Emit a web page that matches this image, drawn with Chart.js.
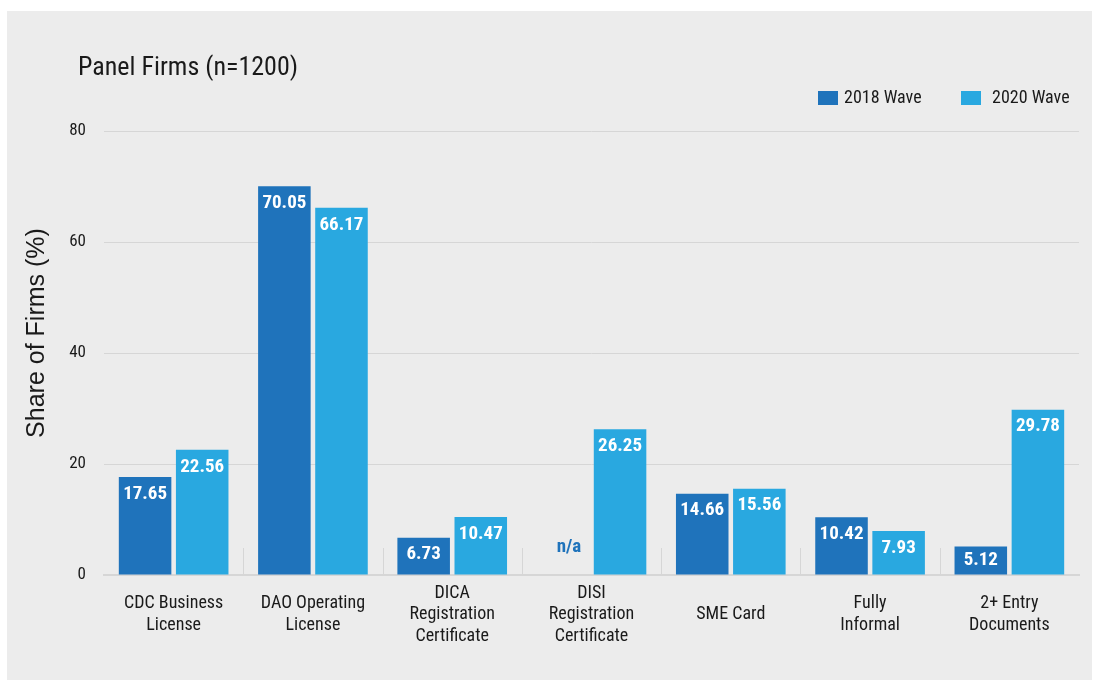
<!DOCTYPE html>
<html>
<head>
<meta charset="utf-8">
<script src="https://cdn.jsdelivr.net/npm/chart.js@4.4.1/dist/chart.umd.min.js"></script>
<style>
    html, body { margin: 0; padding: 0; background: #ffffff; }
    #wrap {
        position: absolute;
        left: 7px;
        top: 11px;
        width: 1085px;
        height: 669px;
        background: #ececec;
    }
</style>
</head>
<body>
<div id="wrap"><canvas id="chart" width="1085" height="669"></canvas></div>
<script>
    const categories = [
        ["CDC Business", "License"],
        ["DAO Operating", "License"],
        ["DICA", "Registration", "Certificate"],
        ["DISI", "Registration", "Certificate"],
        ["SME Card"],
        ["Fully", "Informal"],
        ["2+ Entry", "Documents"]
    ];
    const wave2018 = [17.65, 70.05, 6.73, null, 14.66, 10.42, 5.12];
    const wave2020 = [22.56, 66.17, 10.47, 26.25, 15.56, 7.93, 29.78];
    const yTicks = [0, 20, 40, 60, 80];

    const FONT = "'Roboto Condensed', 'Liberation Sans Narrow', Roboto, sans-serif";
    const DARK = "#1f73bb";
    const LIGHT = "#29a8e0";

    // title, axis title, legend, separators and value labels
    const decor = {
        id: "decor",
        afterDatasetsDraw(chart) {
            const ctx = chart.ctx;
            const x = chart.scales.x;
            const area = chart.chartArea;

            ctx.save();
            // short separators between categories
            ctx.strokeStyle = "#d6d6d6";
            ctx.lineWidth = 1;
            for (let i = 0; i < categories.length - 1; i++) {
                const px = Math.round((x.getPixelForValue(i) + x.getPixelForValue(i + 1)) / 2) + 0.5;
                ctx.beginPath();
                ctx.moveTo(px, area.bottom - 27);
                ctx.lineTo(px, area.bottom);
                ctx.stroke();
            }

            // value labels
            ctx.textAlign = "center";
            ctx.textBaseline = "middle";
            ctx.font = "bold 19px " + FONT;
            chart.data.datasets.forEach((ds, di) => {
                chart.getDatasetMeta(di).data.forEach((bar, i) => {
                    const v = ds.data[i];
                    if (v === null) {
                        ctx.fillStyle = DARK;
                        ctx.fillText("n/a", bar.x + 6, area.bottom - 28);
                        return;
                    }
                    ctx.fillStyle = "#ffffff";
                    const y = Math.min(bar.y + 17, bar.base - 14);
                    ctx.fillText(v.toFixed(2), bar.x, y);
                });
            });

            // y axis title (sits a bit above the plot centre in the original)
            ctx.fillStyle = "#1a1a1a";
            ctx.save();
            ctx.translate(30, 322);
            ctx.rotate(-Math.PI / 2);
            ctx.font = "25px 'Liberation Sans', Arial, sans-serif";
            ctx.fillText("Share of Firms (%)", 0, 0);
            ctx.restore();

            // title
            ctx.textAlign = "left";
            ctx.font = "26px " + FONT;
            ctx.fillText("Panel Firms (n=1200)", 71, 57);

            // legend
            ctx.font = "18px " + FONT;
            const items = [["2018 Wave", DARK, 811, 837], ["2020 Wave", LIGHT, 954, 985]];
            items.forEach(([label, color, bx, tx]) => {
                ctx.fillStyle = color;
                ctx.fillRect(bx, 80, 20, 14);
                ctx.fillStyle = "#1a1a1a";
                ctx.fillText(label, tx, 87);
            });
            ctx.restore();
        }
    };

    new Chart(document.getElementById("chart"), {
        type: "bar",
        data: {
            labels: categories,
            datasets: [
                { label: "2018 Wave", data: wave2018, backgroundColor: DARK, categoryPercentage: 0.82, barPercentage: 0.92 },
                { label: "2020 Wave", data: wave2020, backgroundColor: LIGHT, categoryPercentage: 0.82, barPercentage: 0.92 }
            ]
        },
        options: {
            responsive: false,
            animation: false,
            layout: { padding: { top: 120, right: 13, left: 0, bottom: 0 } },
            plugins: {
                legend: { display: false },
                tooltip: { enabled: false }
            },
            scales: {
                x: {
                    grid: { display: false },
                    border: { color: "#d6d6d6", width: 2 },
                    ticks: {
                        color: "#1a1a1a",
                        font: { family: FONT, size: 18, lineHeight: 1.22 },
                        padding: 10,
                        crossAlign: "center",
                        maxRotation: 0
                    },
                    afterFit(scale) { scale.height = 105; }
                },
                y: {
                    min: 0,
                    max: 80,
                    afterBuildTicks(scale) { scale.ticks = yTicks.map(v => ({ value: v })); },
                    grid: { color: "#d6d6d6", drawTicks: false },
                    border: { display: false },
                    ticks: {
                        color: "#1a1a1a",
                        font: { family: FONT, size: 17 },
                        padding: 18
                    },
                    afterFit(scale) { scale.width = 97; }
                }
            }
        },
        plugins: [decor]
    });
</script>
</body>
</html>
